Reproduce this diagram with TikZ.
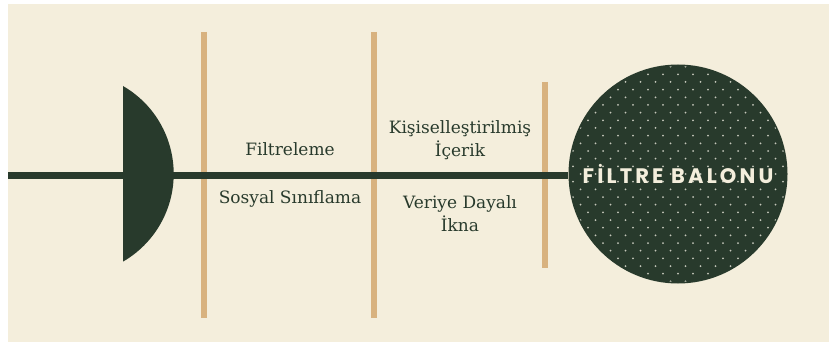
\documentclass[tikz,border=0pt]{standalone}
\usepackage{fontspec}
\setmainfont{DejaVu Serif}
\newfontfamily\titlefont[LetterSpace=15]{Poppins}
\definecolor{cream}{HTML}{F4EEDC}
\definecolor{forest}{HTML}{283A2C}
\definecolor{sand}{HTML}{D8B27F}
\definecolor{speck}{HTML}{C4C7BA}

\begin{document}
\begin{tikzpicture}[x=1pt, y=-1pt,
  bar/.style={line width=6pt, draw=sand},
  stagetext/.style={font=\fontsize{17}{23}\selectfont, text=forest, align=center, inner sep=0pt}]
  % canvas
  \fill[white] (0,0) rectangle (829,342);
  \fill[cream] (8,4) rectangle (829,342);
  \useasboundingbox (0,0) rectangle (829,342);

  % stage bars
  \foreach \x/\top/\bot in {203.5/32/318, 373.5/32/318, 544.5/82/268}
    \draw[bar] (\x,\top) -- (\x,\bot);

  % bubble with dots
  \node[circle, fill=forest, minimum size=219pt, inner sep=0pt] (bubble) at (678,174) {};
  \begin{scope}
    \clip (bubble.center) circle[radius=108];
    \foreach \i in {-15,...,15}
      \foreach \j in {-8,...,8}
        \fill[speck] ({678+15*\j+7.5*(1-mod(abs(\i),2))}, {174+7.67*\i}) circle[radius=1];
  \end{scope}
  \node[font=\titlefont\bfseries\fontsize{21}{21}\selectfont, text=cream] (title) at (bubble.center) {FİLTRE BALONU};

  % main line and shield
  \coordinate (start) at (8,175.5);
  \draw[forest, line width=7pt] (start) -- (start -| bubble.west);
  \fill[forest] (123,86) arc[start angle=-60, end angle=60, radius=101.4] -- cycle;

  % labels
  \node[stagetext] (filter) at (290,149) {Filtreleme};
  \node[stagetext] (social) at (290,199) {Sosyal Sınıflama};
  \node[stagetext] (personal) at (460,140.5) {Kişiselleştirilmiş\\İçerik};
  \node[stagetext] (persuade) at (460,213.5) {Veriye Dayalı\\İkna};
\end{tikzpicture}
\end{document}
